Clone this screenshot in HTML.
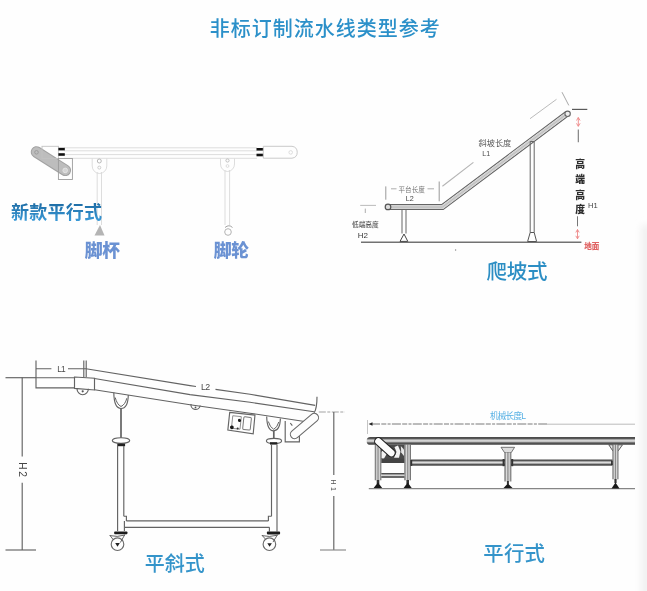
<!DOCTYPE html>
<html lang="zh-CN">
<head>
<meta charset="utf-8">
<title>非标订制流水线类型参考</title>
<style>
html,body{margin:0;padding:0;background:#fff;}
body{width:647px;height:591px;overflow:hidden;position:relative;font-family:"Liberation Sans","Noto Sans CJK SC",sans-serif;}
svg{position:absolute;left:0;top:0;display:block;filter:blur(0.35px);}
text{font-family:"Liberation Sans","Noto Sans CJK SC",sans-serif;}
.t1{fill:#2b90c9;font-size:20px;font-weight:500;letter-spacing:1px;}
.big{fill:#2f9bd5;}
</style>
</head>
<body>
<svg width="647" height="591" viewBox="0 0 647 591">
<defs>
<linearGradient id="belt" x1="0" y1="0" x2="0" y2="1">
<stop offset="0" stop-color="#484848"/><stop offset="0.22" stop-color="#585858"/><stop offset="0.35" stop-color="#b8b8b8"/><stop offset="0.49" stop-color="#dedede"/><stop offset="0.62" stop-color="#b8b8b8"/><stop offset="0.75" stop-color="#585858"/><stop offset="1" stop-color="#404040"/>
</linearGradient>
<linearGradient id="legg" x1="0" y1="0" x2="1" y2="0">
<stop offset="0" stop-color="#555"/><stop offset="0.3" stop-color="#ddd"/><stop offset="0.5" stop-color="#888"/><stop offset="0.7" stop-color="#ddd"/><stop offset="1" stop-color="#555"/>
</linearGradient>
<linearGradient id="rshade" x1="0" y1="0" x2="1" y2="0">
<stop offset="0" stop-color="#fefefe"/><stop offset="1" stop-color="#f6f6f6"/>
</linearGradient>
<filter id="soft" x="-100%" y="-10%" width="300%" height="120%"><feGaussianBlur stdDeviation="3.5"/></filter>
<linearGradient id="tg" x1="0" y1="0" x2="0" y2="1"><stop offset="0.1" stop-color="#1f6fa8"/><stop offset="0.9" stop-color="#3a9ad8"/></linearGradient>
</defs>
<rect x="0" y="0" width="647" height="591" fill="#fefefe"/>
<rect x="641" y="225" width="30" height="400" fill="#f1f1f1" filter="url(#soft)"/>

<!-- TITLE -->
<text class="t1" x="209.8" y="35.5">非标订制流水线类型参考</text>

<!-- PANEL 1 -->
<g id="p1" fill="none" stroke="#d9d9d9" stroke-width="0.9">
<line x1="64" y1="147.8" x2="257" y2="147.8"/>
<line x1="64" y1="150.8" x2="257" y2="150.8"/>
<line x1="64" y1="154.6" x2="257" y2="154.6"/>
<line x1="64" y1="158.3" x2="257" y2="158.3"/>
<line x1="36.5" y1="152" x2="65.3" y2="170.3" stroke="#a2a2a2" stroke-width="11.6" stroke-linecap="round"/>
<line x1="36.5" y1="152" x2="65.3" y2="170.3" stroke="#bdbdbd" stroke-width="9.6" stroke-linecap="round"/>
<rect x="42" y="146.3" width="16.4" height="12.2" stroke="#c2c2c2"/>
<rect x="58.4" y="158.5" width="14" height="21" stroke="#9c9c9c"/>
<circle cx="36.5" cy="152.3" r="1.8" stroke="#999"/>
<circle cx="65.2" cy="170.4" r="2.3" stroke="#e4e4e4" fill="#d4d4d4"/>
<rect x="58.4" y="147.8" width="6.4" height="2.6" fill="#111" stroke="none"/>
<rect x="58.4" y="153.2" width="6.4" height="2.6" fill="#111" stroke="none"/>
<rect x="256.5" y="148" width="6.8" height="2.6" fill="#111" stroke="none"/>
<rect x="256.5" y="153.7" width="6.8" height="2.6" fill="#111" stroke="none"/>
<path d="M263.3 146.3 H292 A6 6 0 0 1 292 158.2 H263.3 Z" stroke="#c4c4c4"/>
<circle cx="290.7" cy="152.4" r="1.8"/>
<!-- bracket left -->
<path d="M92.2 158.5 V166 A7.3 7.5 0 0 0 106.8 166 V158.5"/>
<circle cx="99.3" cy="161" r="2" stroke="#b0b0b0"/>
<circle cx="99.3" cy="167.6" r="1.5" stroke="#c8c8c8"/>
<line x1="97.2" y1="172" x2="97.2" y2="225"/>
<line x1="101.5" y1="172" x2="101.5" y2="225"/>
<path d="M100 225 L104.5 235.5 H94.5 Z" fill="#b4b4b4" stroke="none"/>
<!-- bracket right -->
<path d="M220.5 158.5 V164 A7 7.5 0 0 0 234.5 164 V158.5"/>
<circle cx="227.5" cy="160.5" r="1.6" stroke="#bbb"/>
<circle cx="227.5" cy="166" r="1.4"/>
<line x1="225" y1="170" x2="225" y2="225"/>
<line x1="229.6" y1="170" x2="229.6" y2="225"/>
<circle cx="228" cy="232" r="3.3" stroke="#aaa"/>
<path d="M225 227.5 Q229 224 232.5 227.5" stroke="#999"/>
</g>
<text x="10.9" y="219.3" font-size="18" font-weight="700" fill="url(#tg)" letter-spacing="0.3">新款平行式</text>
<text x="84.7" y="256.8" font-size="17.8" font-weight="900" fill="#6b92d3" letter-spacing="-0.3">脚杯</text>
<text x="213.7" y="256.6" font-size="17.8" font-weight="900" fill="#6b92d3" letter-spacing="-0.3">脚轮</text>

<!-- PANEL 2 -->
<g id="p2" fill="none" stroke="#6a6a6a" stroke-width="1">
<line x1="361" y1="242.3" x2="581.4" y2="242.3" stroke="#727272" stroke-width="1.4"/>
<!-- platform tube -->
<path d="M387.5 204.6 H441.6 L565.6 111.8 M387.5 209.5 H443.2 L568.4 115.8" stroke="#646464" stroke-width="1.15"/>
<path d="M388 207.1 H442.4 L567 113.8" stroke="#d2d2d2" stroke-width="3.6"/><path d="M388 207.1 H442.4 L567 113.8" stroke="#b0b0b0" stroke-width="0.7"/>
<circle cx="388" cy="206.9" r="2.8" fill="#ddd" stroke="#555" stroke-width="1.2"/>
<circle cx="567.6" cy="113.8" r="2.7" fill="#eee" stroke="#666" stroke-width="1.1"/>
<!-- leg1 -->
<path d="M402 209.8 V233.5 M406 209.8 V233.5" stroke="#666"/>
<path d="M404 234 L407.8 241.4 H400 Z" stroke="#444" fill="#fff"/>
<!-- leg2 -->
<path d="M530.2 141.5 V232.5 M534.2 141.5 V232.5 M530.2 141.5 H534.2" stroke="#666"/>
<path d="M530.2 232.5 H534.2 L536.6 241.5 H527.6 Z" stroke="#555" fill="#fff"/>
<!-- dims -->
<g stroke="#999" stroke-width="0.8">
<line x1="385.8" y1="186.4" x2="385.8" y2="199.7" stroke="#999" stroke-width="1"/>
<line x1="439.2" y1="181.5" x2="439.2" y2="201.3" stroke="#999" stroke-width="1"/>
<line x1="391" y1="188.8" x2="396.5" y2="188.8"/>
<line x1="427.5" y1="188.8" x2="434" y2="188.8"/>
<line x1="360.2" y1="205.4" x2="376" y2="205.4" stroke="#aaa"/>
<line x1="365.3" y1="208.6" x2="365.3" y2="213"/>
<line x1="442.4" y1="186.2" x2="473.4" y2="162.4" stroke="#b4b4b4" stroke-width="1.1"/>
<line x1="530" y1="118.7" x2="556.5" y2="99.3" stroke="#bbb" stroke-width="1"/>
<line x1="562" y1="92.2" x2="568.8" y2="105.4" stroke="#a8a8a8" stroke-width="1"/>
<line x1="572" y1="109.4" x2="587.3" y2="109.4" stroke="#5a5a5a" stroke-width="1.2"/>
<line x1="578.3" y1="129.6" x2="578.3" y2="142.3" stroke="#777" stroke-width="1.1"/>
<line x1="577.5" y1="216.3" x2="577.5" y2="226.3" stroke="#777" stroke-width="1"/>
</g>
<g stroke="#e88" stroke-width="0.9">
<path d="M578.3 117.5 V126.3 M576.5 120.5 L578.3 117.5 L580.1 120.5 M576.5 123.3 L578.3 126.3 L580.1 123.3"/>
<path d="M577.5 229.5 V238.8 M575.8 232.5 L577.5 229.5 L579.2 232.5 M575.8 235.8 L577.5 238.8 L579.2 235.8"/>
</g>
</g>
<g fill="#777" font-size="6.6">
<text x="398.5" y="191.5">平台长度</text>
<text x="405.8" y="201" font-size="7.2" fill="#444">L2</text>
<text x="352" y="226.6" font-size="6.7" fill="#555" font-weight="500">低端高度</text>
<text x="357.7" y="238.4" font-size="8" fill="#3a3a3a">H2</text>
<text x="478.5" y="145.8" font-size="8.2" fill="#5a5a5a">斜坡长度</text>
<text x="482.3" y="156.4" font-size="7" fill="#4a4a4a">L1</text>
<text x="588" y="207.6" font-size="7.6" fill="#444">H1</text>
</g>
<g fill="#2e2e2e" font-size="9.8" font-weight="900">
<text x="575.2" y="168.2">高</text>
<text x="575.2" y="183.3">端</text>
<text x="575.2" y="198.5">高</text>
<text x="575.2" y="213.3">度</text>
</g>
<text x="584.2" y="248.6" font-size="7.6" font-weight="900" fill="#e06464">地面</text>
<text x="486.5" y="278.8" font-size="20.5" font-weight="500" fill="#2c8ec4" letter-spacing="-0.2">爬坡式</text>

<circle cx="455.6" cy="250" r="0.7" fill="#888"/>
<!-- PANEL 3 -->
<g id="p3" fill="none" stroke="#636363" stroke-width="1.15">
<!-- H2 dim -->
<line x1="5.5" y1="377.7" x2="36" y2="377.7"/>
<line x1="22.2" y1="377.5" x2="22.2" y2="456.4"/>
<line x1="22.2" y1="482.8" x2="22.2" y2="550"/>
<line x1="5.5" y1="550" x2="36" y2="550"/>
<!-- flat section -->
<path d="M36 360.6 V387.9 H74.5 M36 377.7 H74.5"/>
<path d="M74.5 377 L94.5 378.2 V390 L74.5 388.4 Z"/>
<path d="M77 388.8 A5.7 5.9 0 0 0 88.4 388.8"/>
<circle cx="82.7" cy="391.3" r="1.1" fill="#555" stroke="none"/>
<!-- L1 dim -->
<path d="M36 368.7 H51.4 M68 368.7 H86 M83.8 360.6 V377 M86.2 360.6 V377"/>
<!-- incline lines -->
<path d="M86 368.7 L190 385.6 L196 386.5 M215.5 389.4 L250 394.3 L315.2 405.4"/>
<path d="M94.5 378.5 L190 394.6 L250 402.3 L314 411.8"/>
<path d="M94.5 389.8 L190 404.7 L250 413.2 L309.5 422.2"/>
<!-- right end -->
<path d="M317 396.7 Q317 408 314.2 412.8"/>
<path d="M285.2 421 V441.9 H299.4 V434"/>
<line x1="314.3" y1="417.6" x2="294.6" y2="434.4" stroke="#6a6a6a" stroke-width="9.6" stroke-linecap="round"/>
<line x1="314.3" y1="417.6" x2="294.6" y2="434.4" stroke="#fdfdfd" stroke-width="7.4" stroke-linecap="round"/>
<!-- half circle 2 -->
<path d="M191 404 A4.6 4.6 0 0 0 200.2 405.5"/>
<circle cx="195.5" cy="407.3" r="0.9" fill="#555" stroke="none"/>
<!-- hanger 1 -->
<path d="M113.8 392.6 Q114 408.5 121 408.5 Q128 408.5 128.3 395"/>
<path d="M115.2 397.5 Q117 404.5 121 406.5 Q125.3 404.5 126.8 398.2" stroke-width="1"/>
<path d="M121 408.5 V438" stroke-width="1.7"/>
<ellipse cx="121" cy="440.5" rx="8.7" ry="2.8" fill="#fff"/>
<rect x="117.3" y="443.6" width="7.8" height="2.6" fill="#222" stroke="none"/>
<path d="M117.6 446 V531 M123.8 446 V516.2"/>
<!-- hanger 2 -->
<path d="M266.7 416.5 Q267 430.8 273.7 430.8 Q280 430.8 280.4 418.6"/>
<path d="M268.3 421.5 Q270 427.5 273.7 429.3 Q277.3 427.5 278.8 422" stroke-width="1"/>
<path d="M273.8 430.8 V438.5" stroke-width="1.7"/>
<ellipse cx="274" cy="440.9" rx="7.6" ry="2.5" fill="#fff"/>
<rect x="270" y="442.2" width="7.2" height="2.4" fill="#222" stroke="none"/>
<path d="M271.5 444.5 V516.2 M277 444.5 V531.5"/>
<!-- control box -->
<g transform="translate(229.7 412.4) rotate(6)">
<path d="M0 0 H25.4 L25.6 18.8 L0 17.8 Z" stroke="#666"/>
<rect x="3.4" y="3" width="8.6" height="12.6" stroke="#8a8a8a" stroke-width="0.9"/>
<rect x="14.6" y="2.8" width="7.6" height="12.8" rx="1.2" stroke="#777" stroke-width="1"/>
<circle cx="10.6" cy="7" r="1.6" fill="#1a1a1a" stroke="none"/>
<circle cx="3.7" cy="14.6" r="1.9" fill="#1a1a1a" stroke="none"/>
<circle cx="9.6" cy="15.2" r="1" fill="#333" stroke="none"/>
</g>
<!-- right bracket box -->
<path d="M290.3 423 L292.3 425.6" />
<!-- cross bar -->
<path d="M126.4 520.9 H268.4 M124.6 527.3 H269.4"/>
<path d="M123.8 516.2 H126.4 V520.9 M124.4 520.9 V531 M271.5 516.2 H268.4 V521 M269.4 527.3 V531.5"/>
<rect x="114.2" y="531.4" width="13.2" height="2.8" rx="0.8" fill="#1c1c1c" stroke="none"/>
<rect x="266.9" y="531.6" width="13.2" height="2.8" rx="0.8" fill="#1c1c1c" stroke="none"/>
<!-- casters -->
<circle cx="117.5" cy="544.2" r="6.3" stroke="#6a6a6a"/>
<path d="M115.2 543.1 H119.8 L117.5 546.7 Z" fill="#222" stroke="none"/>
<path d="M124.9 534.5 L120.3 542.6 M109.6 535 L113.2 539.6 M110 535.6 Q117 537.5 125 535" stroke="#555" stroke-width="0.9"/>
<circle cx="269.4" cy="544.2" r="6.3" stroke="#6a6a6a"/>
<path d="M267.3 543.3 H271.9 L269.6 546.7 Z" fill="#222" stroke="none"/>
<path d="M277.6 534.5 L273 542.1 M261.8 535 L265.4 539 M262 535.6 Q269 537.5 277.5 535.2" stroke="#555" stroke-width="0.9"/>
<!-- H1 dim -->
<line x1="318.8" y1="412" x2="345" y2="412" stroke="#999" stroke-dasharray="7 1.5 3 1.5" stroke-width="0.9"/>
<line x1="333.8" y1="412" x2="333.8" y2="475"/>
<line x1="333.8" y1="496" x2="333.8" y2="550"/>
<line x1="320" y1="550" x2="346" y2="550" stroke="#888"/>
</g>
<g fill="#4a4a4a" font-size="6.5">
<text x="57.3" y="372" font-size="8.4" letter-spacing="-1">L1</text>
<text x="201" y="390.4" font-size="8.8" letter-spacing="-0.7">L2</text>
<text transform="translate(18.8 462.3) rotate(90)" font-size="10.2" letter-spacing="1.5" fill="#444">H2</text>
<text transform="translate(331.4 479.6) rotate(90)" font-size="7" letter-spacing="2.4" fill="#555">H1</text>
</g>
<text x="144.8" y="570.8" font-size="20" font-weight="500" fill="#3494ca" letter-spacing="0">平斜式</text>

<!-- PANEL 4 -->
<g id="p4" fill="none" stroke="#555" stroke-width="1">
<!-- dim line -->
<line x1="371" y1="424" x2="547" y2="424" stroke="#333" stroke-width="0.65" stroke-dasharray="9 1.3 5 1.3 3 1.3"/>
<line x1="547" y1="424.2" x2="635" y2="424.2" stroke="#bbb" stroke-width="1"/>
<path d="M368.6 424 L372.5 422.3 V425.7 Z" fill="#222" stroke="none"/>
<line x1="367.5" y1="420" x2="367.5" y2="434" stroke="#aaa" stroke-width="0.7"/>
<!-- ground -->
<line x1="368.8" y1="488.6" x2="635" y2="488.6" stroke="#858585" stroke-width="1.3"/>
<!-- belt -->
<path d="M370.5 437 H635 V444.8 H370.5 A3.9 3.9 0 0 1 370.5 437 Z" fill="url(#belt)" stroke="none"/>
<!-- long cross bar -->
<rect x="411" y="459.5" width="201.5" height="6.2" fill="url(#belt)" stroke="none"/>
<!-- left frame -->
<path d="M381 444.8 H404.4 V459 H381 Z" fill="#4a4a4a" stroke="none"/>
<path d="M381.3 452 L386 447 L389 450 L384 458.5 H381.3 Z" fill="#f2f2f2" stroke="none"/>
<path d="M394.5 447 L398 445.5 L400.5 451.5 L399 457.8 L394 457.8 L396.5 452 Z" fill="#f4f4f4" stroke="none"/>
<path d="M400.8 446 L404 449.5 V456 L401.2 452.5 Z" fill="#e6e6e6" stroke="none"/>
<rect x="374.8" y="444.8" width="6.5" height="35.5" fill="url(#legg)" stroke="none"/>
<rect x="404.4" y="444.8" width="6.6" height="35.5" fill="url(#legg)" stroke="none"/>
<rect x="381.3" y="458.8" width="23.1" height="4.2" fill="#444" stroke="none"/>
<rect x="381.3" y="473" width="23.1" height="4.8" fill="url(#belt)" stroke="none"/>
<rect x="410.4" y="460" width="1.8" height="5.9" fill="#333" stroke="none"/>
<!-- motor -->
<line x1="378.4" y1="441.4" x2="391.4" y2="453" stroke="#222" stroke-width="8.6" stroke-linecap="round"/>
<line x1="378.4" y1="441.4" x2="391.4" y2="453" stroke="#fcfcfc" stroke-width="6.4" stroke-linecap="round"/>
<!-- feet left -->
<path d="M378 480 V484 M407.7 480 V484" stroke="#333" stroke-width="2.6"/>
<path d="M378 482.6 L382.2 488 H373.6 Z M407.7 482.6 L411.7 488 H403.6 Z" fill="#1a1a1a" stroke="none"/>
<!-- mid leg -->
<path d="M501 447.3 H514.6 L511.3 452.5 H504.5 Z" fill="#ddd" stroke="#555" stroke-width="0.8"/>
<rect x="504.5" y="452.5" width="6.8" height="29" fill="url(#legg)" stroke="none"/>
<rect x="502.6" y="459" width="2" height="7.2" fill="#333" stroke="none"/><rect x="511.2" y="459" width="2" height="7.2" fill="#333" stroke="none"/>
<path d="M507.9 481 V484.5" stroke="#333" stroke-width="2"/>
<path d="M507.9 483.5 L512.5 488 H503.5 Z" fill="#1a1a1a" stroke="none"/>
<!-- right leg -->
<path d="M608.8 444.8 H622.5 L618.4 450.6 H612.6 Z" fill="#e8e8e8" stroke="#4a4a4a" stroke-width="0.9"/>
<rect x="612.5" y="444.8" width="5.9" height="34.5" fill="url(#legg)" stroke="none"/>
<rect x="611.1" y="460.8" width="1.6" height="4.2" fill="#2a2a2a" stroke="none"/>
<path d="M615.5 479 V483" stroke="#333" stroke-width="2.2"/>
<path d="M615.5 482.4 L619.5 488.4 H611.5 Z" fill="#1a1a1a" stroke="none"/>
</g>
<text x="490" y="419.3" font-size="8.6" font-weight="400" fill="#55b0e4" letter-spacing="-0.8">机械长度L</text>
<text x="483.3" y="560.8" font-size="20.4" font-weight="500" fill="#3494ca" letter-spacing="0.2">平行式</text>
</svg>
</body>
</html>
